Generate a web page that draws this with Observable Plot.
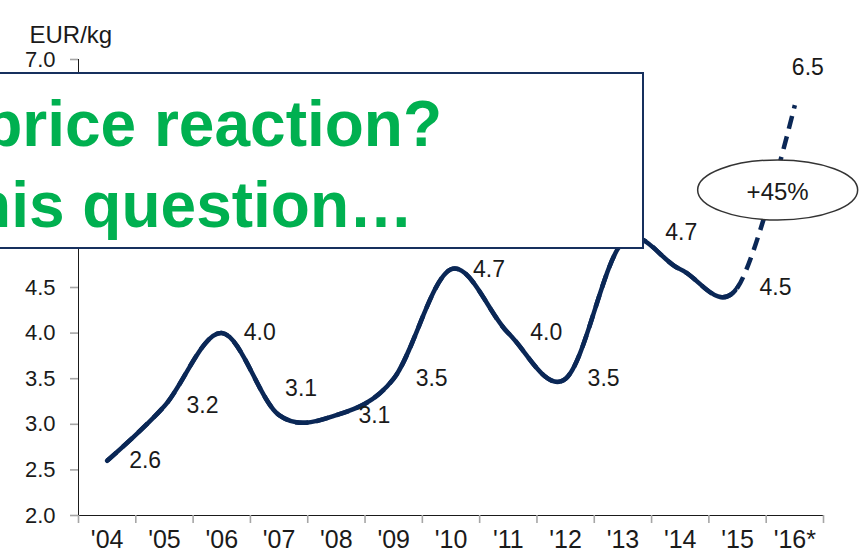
<!DOCTYPE html>
<html>
<head>
<meta charset="utf-8">
<script src="https://cdn.jsdelivr.net/npm/d3@7"></script>
<script src="https://cdn.jsdelivr.net/npm/@observablehq/plot@0.6"></script>
<style>
  html, body { margin:0; padding:0; background:#fff; overflow:hidden; }
  #wrap { position:relative; width:860px; height:557px; overflow:hidden; font-family:"Liberation Sans", Arial, sans-serif; }
  #wrap svg g[aria-label$="axis tick"], #wrap svg g[aria-label$="axis line"] { stroke:#a6a6a6; stroke-width:1.6px; }
  #wrap svg g[aria-label="x-axis"] line, #wrap svg g[aria-label="x-axis"] path,
  #wrap svg g[aria-label="y-axis"] line, #wrap svg g[aria-label="y-axis"] path { stroke:#a6a6a6; stroke-width:1.6px; }
  .callout { position:absolute; left:-20px; top:72px; width:664px; height:177px; box-sizing:border-box; border:2px solid #17305e; background:#fff; }
  .callout-line { position:absolute; white-space:nowrap; color:#00b050; font-weight:bold; font-size:64px; line-height:64px; font-family:"Liberation Sans", Arial, sans-serif; }
</style>
</head>
<body>
<div id="wrap"></div>
<script>
// ---- data ----
const years = ["'04", "'05", "'06", "'07", "'08", "'09", "'10", "'11", "'12", "'13", "'14", "'15", "'16*"];
const prices = [2.6, 3.2, 4.0, 3.1, 3.1, 3.5, 4.7, 4.0, 3.5, 5.0, 4.7, 4.5, 6.5];
const yTicks = [2.0, 2.5, 3.0, 3.5, 4.0, 4.5, 5.0, 5.5, 6.0, 6.5, 7.0];
const unitLabel = "EUR/kg";
const changeLabel = "+45%";
const calloutLines = ["price reaction?", "this question…"];
const lastActualYear = "'15";

// ---- derived table ----
const data = years.map((year, i) => ({i, year, price: prices[i], label: prices[i].toFixed(1)}));
const lastActualIndex = years.indexOf(lastActualYear);
const xBoundaries = years.map((_, i) => i - 0.5).concat([years.length - 0.5]);

const navy = "#0a2756";
const textColor = "#1a1a1a";

// label placement (styling, not data)
const aboveRight = new Set(["'07"]);
const aboveCenter = new Set(["'14"]);
const aboveEnd = new Set(["'16*"]);
const hidden = new Set(["'13"]);
const special = new Set([...aboveRight, ...aboveCenter, ...aboveEnd, ...hidden]);

// ellipse symbol for the annotation
const ellipseSymbol = {
  draw(context) {
    const rx = 80, ry = 30, k = 0.5523;
    context.moveTo(rx, 0);
    context.bezierCurveTo(rx, ry * k, rx * k, ry, 0, ry);
    context.bezierCurveTo(-rx * k, ry, -rx, ry * k, -rx, 0);
    context.bezierCurveTo(-rx, -ry * k, -rx * k, -ry, 0, -ry);
    context.bezierCurveTo(rx * k, -ry, rx, -ry * k, rx, 0);
    context.closePath();
  }
};
const annotation = [{x: 11.7, y: 5.57, text: changeLabel}];

const chart = Plot.plot({
  width: 860,
  height: 557,
  marginLeft: 78,
  marginRight: 37,
  marginTop: 59,
  marginBottom: 42,
  style: {fontFamily: "'Liberation Sans', Arial, sans-serif", fontSize: "22px", color: textColor, background: "transparent", overflow: "visible"},
  x: {domain: [-0.5, years.length - 0.5], ticks: xBoundaries, tickFormat: () => "", tickSize: 8, line: true, label: null},
  y: {domain: [yTicks[0], yTicks[yTicks.length - 1]], ticks: yTicks, tickFormat: d3.format(".1f"), tickSize: 8, tickPadding: 15, line: true, label: null},
  marks: [
    // dashed forecast (full curve, solid drawn over the actual part)
    Plot.line(data, {x: "i", y: "price", curve: "cardinal", stroke: navy, strokeWidth: 4.5, strokeDasharray: "13,8", strokeLinecap: "butt"}),
    // solid actual (clipped at last actual year)
    Plot.line(data, {x: "i", y: "price", curve: "cardinal", stroke: navy, strokeWidth: 4.5, strokeLinecap: "round", strokeLinejoin: "round"}),
    // data labels
    Plot.text(data, {filter: d => !special.has(d.year), x: "i", y: "price", text: "label", textAnchor: "start", dx: 22, fontSize: 23, fill: textColor}),
    Plot.text(data, {filter: d => aboveRight.has(d.year), x: "i", y: "price", text: "label", dx: 22, dy: -27, fontSize: 23, fill: textColor}),
    Plot.text(data, {filter: d => aboveCenter.has(d.year), x: "i", y: "price", text: "label", dx: 1, dy: -37, fontSize: 23, fill: textColor}),
    Plot.text(data, {filter: d => aboveEnd.has(d.year), x: "i", y: "price", text: "label", dx: 13, dy: -37, fontSize: 23, fill: textColor}),
    Plot.text(data, {filter: d => hidden.has(d.year), x: "i", y: "price", text: "label", textAnchor: "end", dx: -12, dy: -30, fontSize: 23, fill: textColor}),
    // annotation ellipse
    Plot.dot(annotation, {x: "x", y: "y", symbol: ellipseSymbol, fill: "white", stroke: "#333", strokeWidth: 1.5}),
    Plot.text(annotation, {x: "x", y: "y", text: "text", dy: 2, fontSize: 24, fill: textColor}),
    // unit label
    Plot.text([unitLabel], {frameAnchor: "top-left", textAnchor: "start", dx: -49, dy: -34, fontSize: 24, fill: textColor}),
    // category labels
    Plot.text(data, {x: "i", text: "year", frameAnchor: "bottom", dy: 32, fontSize: 25, fill: textColor})
  ]
});

const wrap = document.getElementById("wrap");
wrap.appendChild(chart);

// clip the solid line at the last actual year
try {
  const xs = chart.scale("x");
  const cut = xs.apply(lastActualIndex);
  const svg = d3.select(chart);
  const clip = svg.append("defs").append("clipPath").attr("id", "solid-clip").attr("clipPathUnits", "userSpaceOnUse");
  clip.append("rect").attr("x", -100).attr("y", -100).attr("width", cut + 100).attr("height", 800);
  const lineGroups = svg.selectAll('g[aria-label="line"]').nodes();
  if (lineGroups[1]) d3.select(lineGroups[1]).attr("clip-path", "url(#solid-clip)");
} catch (e) { console.error(e); }

// callout box
const box = document.createElement("div");
box.className = "callout";
wrap.appendChild(box);
const lineRights = [442, 413];
const lineTops = [92, 173];
calloutLines.forEach((t, k) => {
  const s = document.createElement("div");
  s.className = "callout-line";
  s.textContent = t;
  s.style.right = (860 - lineRights[k]) + "px";
  s.style.top = lineTops[k] + "px";
  wrap.appendChild(s);
});
</script>
</body>
</html>
